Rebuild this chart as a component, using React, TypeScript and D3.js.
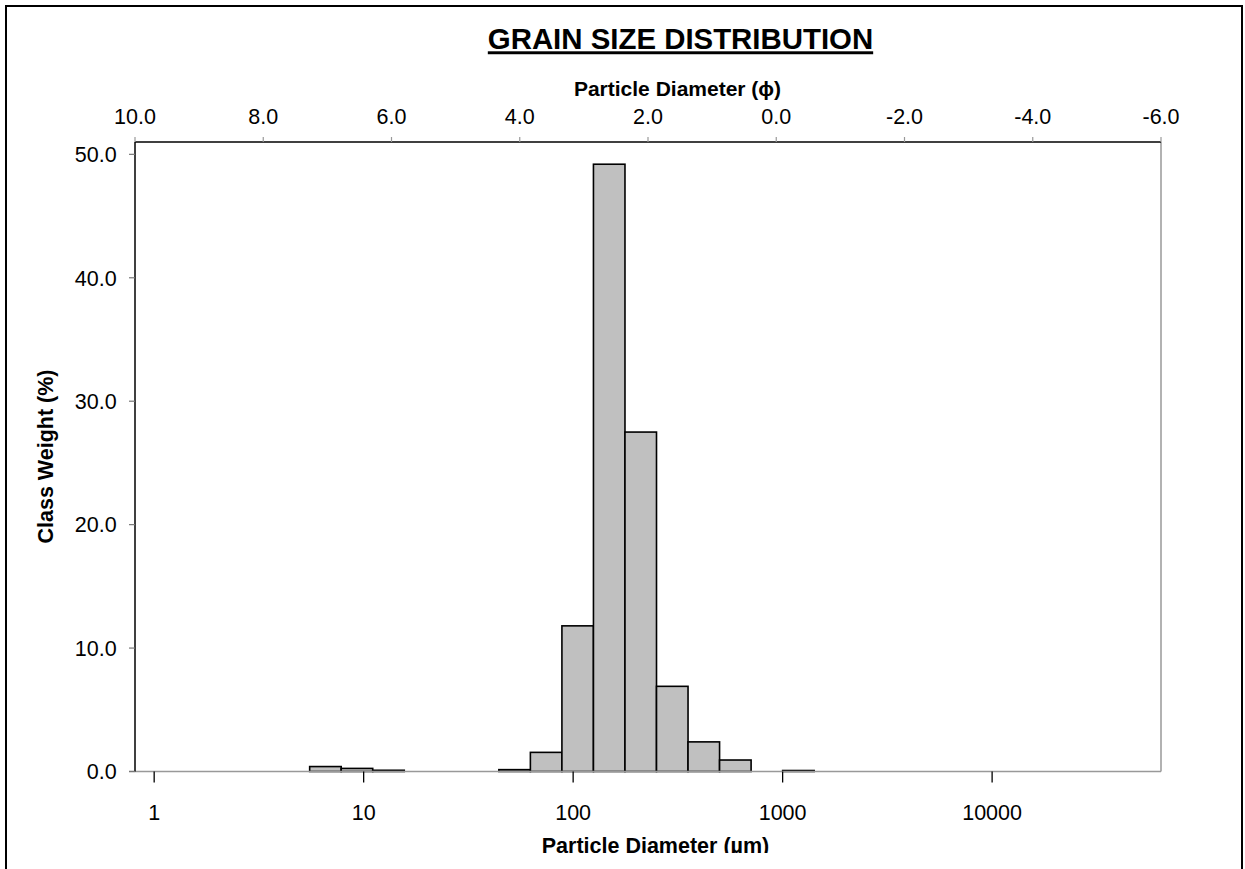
import React, { useEffect } from "react";
import * as d3 from "d3";

// ---- data ----
const titleText = "GRAIN SIZE DISTRIBUTION";
const topAxisTitle = "Particle Diameter (\u03D5)";
const bottomAxisTitle = "Particle Diameter (\u00B5m)";
const yAxisTitle = "Class Weight (%)";

const phiTicks = [10, 8, 6, 4, 2, 0, -2, -4, -6];
const umTicks = [1, 10, 100, 1000, 10000];
const yTicks = [0, 10, 20, 30, 40, 50];

// half-phi classes (finer phi bound of each class) and class weights (%)
const classFinePhi = [7.5, 7.0, 6.5, 4.5, 4.0, 3.5, 3.0, 2.5, 2.0, 1.5, 1.0, 0.0];
const classWeight = [0.4, 0.25, 0.1, 0.15, 1.55, 11.8, 49.2, 27.5, 6.9, 2.4, 0.93, 0.08];
const classStep = 0.5;

const W = 1245;
const H = 869;
const FONT = "'Liberation Sans', Arial, Helvetica, sans-serif";

const plot = { left: 135, right: 1161, top: 142, bottom: 771.5 };

const phiToUm = (phi: number) => 1000 * Math.pow(2, -phi);
const fmt = (v: number) => v.toFixed(1);

export default function App() {
  useEffect(() => {
    document.body.style.margin = "0";
  }, []);

  const x = d3.scaleLog().domain([0.81, 64000]).range([plot.left, plot.right]);
  const xPhi = d3.scaleLinear().domain([10, -6]).range([plot.left, plot.right]);
  const y = d3.scaleLinear().domain([0, 51]).range([plot.bottom, plot.top]);

  const bars = classFinePhi.map((p, i) => {
    const d0 = phiToUm(p);
    const d1 = phiToUm(p - classStep);
    return { x0: x(d0), x1: x(d1), v: classWeight[i] };
  });

  return (
    <svg
      width={W}
      height={H}
      style={{ position: "absolute", left: 0, top: 0, background: "#fff" }}
      fontFamily={FONT}
    >
      <defs>
        <clipPath id="bottomClip">
          <rect x={0} y={0} width={W} height={853} />
        </clipPath>
      </defs>
      <rect x={0} y={0} width={W} height={H} fill="#fff" />
      {/* outer chart frame */}
      <rect x={6} y={6} width={1236} height={900} fill="none" stroke="#000" strokeWidth={2} />

      {/* title */}
      <text
        x={680.5}
        y={49.3}
        textAnchor="middle"
        fontSize={29.4}
        fontWeight="bold"
        textDecoration="underline"
        fill="#000"
      >
        {titleText}
      </text>

      {/* top axis title */}
      <text x={677.5} y={96} textAnchor="middle" fontSize={21} fontWeight="bold">
        {topAxisTitle}
      </text>

      {/* bars */}
      {bars.map((b, i) => (
        <rect
          key={i}
          x={b.x0}
          y={y(b.v)}
          width={b.x1 - b.x0}
          height={y(0) - y(b.v)}
          fill="#C0C0C0"
          stroke="#000"
          strokeWidth={1.6}
        />
      ))}

      {/* plot borders */}
      <line x1={plot.right} x2={plot.right} y1={plot.top} y2={plot.bottom} stroke="#999" strokeWidth={1.5} />
      <line x1={plot.left - 6} x2={plot.right} y1={plot.bottom} y2={plot.bottom} stroke="#999" strokeWidth={1.5} />
      <line x1={plot.left} x2={plot.right} y1={plot.top} y2={plot.top} stroke="#000" strokeWidth={1.5} />
      <line x1={plot.left} x2={plot.left} y1={plot.top} y2={plot.bottom} stroke="#000" strokeWidth={1.5} />

      {/* top phi axis */}
      {phiTicks.map((t) => (
        <g key={"p" + t}>
          <line x1={xPhi(t)} x2={xPhi(t)} y1={plot.top - 5} y2={plot.top} stroke="#999" strokeWidth={1.2} />
          <text x={xPhi(t)} y={123.5} textAnchor="middle" fontSize={21.5}>
            {fmt(t)}
          </text>
        </g>
      ))}

      {/* bottom um axis */}
      {umTicks.map((t) => (
        <g key={"u" + t}>
          <line x1={x(t)} x2={x(t)} y1={plot.bottom} y2={plot.bottom + 11} stroke="#000" strokeWidth={1.3} />
          <text x={x(t)} y={820} textAnchor="middle" fontSize={21.5}>
            {String(t)}
          </text>
        </g>
      ))}
      <g clipPath="url(#bottomClip)">
        <text x={655.5} y={853} textAnchor="middle" fontSize={21.5} fontWeight="bold">
          {bottomAxisTitle}
        </text>
      </g>

      {/* y axis */}
      {yTicks.map((t) => (
        <g key={"y" + t}>
          <line x1={plot.left - 6} x2={plot.left} y1={y(t)} y2={y(t)} stroke="#777" strokeWidth={1.2} />
          <text x={116.7} y={y(t)} dy="0.36em" textAnchor="end" fontSize={21.5}>
            {fmt(t)}
          </text>
        </g>
      ))}
      <text
        transform={`translate(53,456.5) rotate(-90)`}
        textAnchor="middle"
        fontSize={21.5}
        fontWeight="bold"
      >
        {yAxisTitle}
      </text>
    </svg>
  );
}
